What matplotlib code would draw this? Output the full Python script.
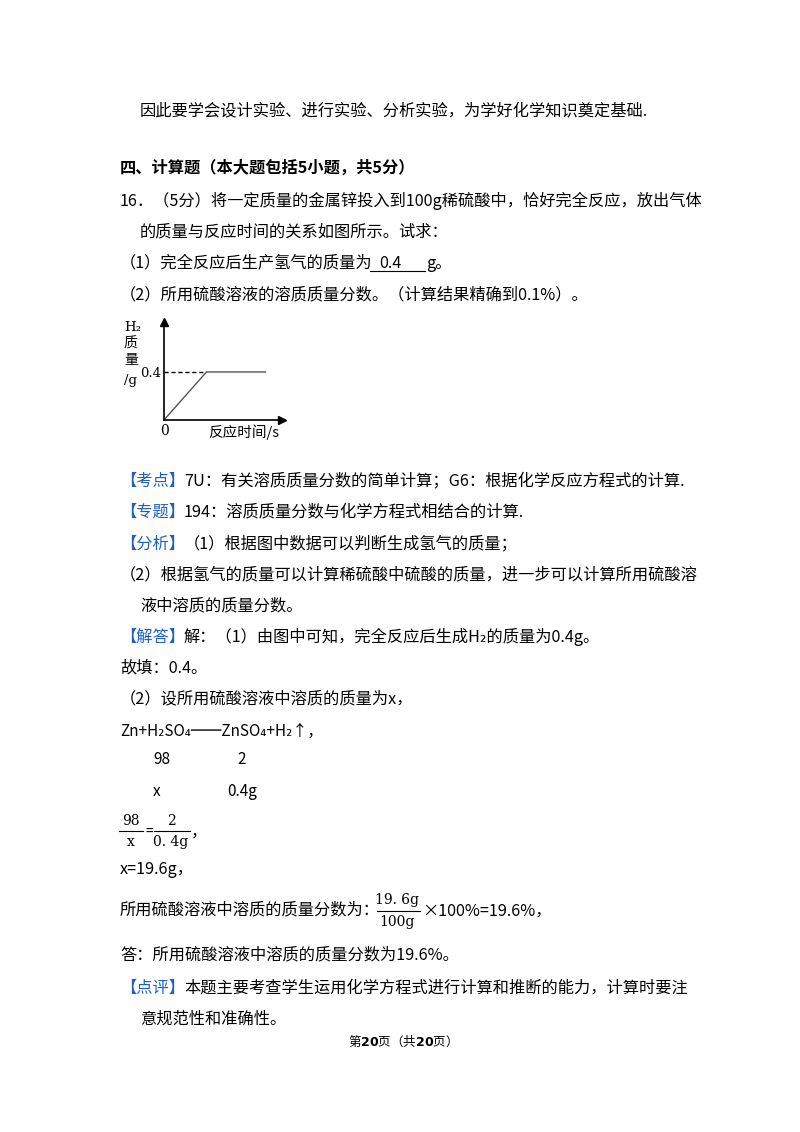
import matplotlib.pyplot as plt
from matplotlib.lines import Line2D

plt.rcParams['font.family'] = ['Noto Sans CJK SC', 'DejaVu Sans']

# chart data (graph in the question)
time = [0, 0.36, 0.86]
mass = [0, 0.4, 0.4]
y_ticks = [0.4]
y_tick_labels = ['0.4']

W, H = 800, 1132
fig = plt.figure(figsize=(8, 11.32), dpi=100)
FS = 11.7
BLUE = '#1f5fbf'


def tx(x, y, s, **kw):
    kw.setdefault('fontsize', FS)
    kw.setdefault('va', 'center')
    fig.text(x / W, 1 - y / H, s, **kw)


def hline(x0, x1, y, lw=0.8):
    fig.add_artist(Line2D([x0 / W, x1 / W], [1 - y / H, 1 - y / H], color='black', lw=lw))


tx(140, 111, '因此要学会设计实验、进行实验、分析实验，为学好化学知识奠定基础.')
tx(120, 168, '四、计算题（本大题包括5小题，共5分）', fontweight='bold')
tx(120, 201, '16．（5分）将一定质量的金属锌投入到100g稀硫酸中，恰好完全反应，放出气体')
tx(140, 232, '的质量与反应时间的关系如图所示。试求：')
tx(120, 263, '（1）完全反应后生产氢气的质量为')
tx(390, 263, '0.4', ha='center')
hline(370, 425, 271)
tx(426, 263, 'g。')
tx(120, 295, '（2）所用硫酸溶液的溶质质量分数。（计算结果精确到0.1%）。')

# chart
ax = fig.add_axes([164 / W, 1 - 420 / H, 118 / W, 98 / H])
ax.plot(time, mass, color='#555555', lw=1)
ax.plot([0, time[1]], [mass[1], mass[1]], color='black', lw=1, ls='--', dashes=(3, 2))
ax.set_xlim(0, 1)
ax.set_ylim(0, 0.816)
for s in ['top', 'right']:
    ax.spines[s].set_visible(False)
ax.spines['left'].set_linewidth(1.2)
ax.spines['bottom'].set_linewidth(1.2)
ax.plot(1, 0, '>k', ms=6, transform=ax.transAxes, clip_on=False)
ax.plot(0, 1, '^k', ms=6, transform=ax.transAxes, clip_on=False)
ax.set_xticks([])
ax.set_yticks(y_ticks)
ax.set_yticklabels(y_tick_labels, family='DejaVu Serif', fontsize=9.5)
ax.tick_params(axis='y', length=0, pad=2)
ax.patch.set_alpha(0)
tx(124, 327, 'H₂', fontsize=9.5, family=['DejaVu Serif'])
tx(124, 344, '质', fontsize=10)
tx(124, 360, '量', fontsize=10)
tx(124, 381, '/g', fontsize=9.5, family=['DejaVu Serif'])
tx(160, 431, '0', fontsize=10, family=['DejaVu Serif'])
tx(208, 432, '反应时间/s', fontsize=10.5)

# analysis
lines = [
    (481, '【考点】', '7U：有关溶质质量分数的简单计算；G6：根据化学反应方程式的计算.'),
    (512, '【专题】', '194：溶质质量分数与化学方程式相结合的计算.'),
    (544, '【分析】', '（1）根据图中数据可以判断生成氢气的质量；'),
]
for y, tag, rest in lines:
    tx(120, y, tag, color=BLUE)
    tx(184, y, rest)
tx(120, 575, '（2）根据氢气的质量可以计算稀硫酸中硫酸的质量，进一步可以计算所用硫酸溶')
tx(140, 606, '液中溶质的质量分数。')
tx(120, 637, '【解答】', color=BLUE)
tx(184, 637, '解：（1）由图中可知，完全反应后生成H₂的质量为0.4g。')
tx(120, 668, '故填：0.4。')
tx(120, 699, '（2）设所用硫酸溶液中溶质的质量为x，')
tx(120, 731, 'Zn+H₂SO₄══ZnSO₄+H₂↑，', fontsize=11)
tx(153, 760, '98', fontsize=11)
tx(237, 760, '2', fontsize=11)
tx(153, 791, 'x', fontsize=11)
tx(227, 791, '0.4g', fontsize=11)

# 98/x = 2/0.4g
tx(131, 821, '98', ha='center', fontsize=10, family=['DejaVu Serif'])
tx(131, 842, 'x', ha='center', fontsize=10, family=['DejaVu Serif'])
hline(119, 143, 831)
tx(145, 832, '=', fontsize=10)
tx(171, 821, '2', ha='center', fontsize=10, family=['DejaVu Serif'])
tx(171, 842, '0. 4g', ha='center', fontsize=10, family=['DejaVu Serif'])
hline(154, 190, 831)
tx(191, 832, '，')
tx(120, 870, 'x=19.6g，')
tx(120, 910, '所用硫酸溶液中溶质的质量分数为：')
tx(397, 900, '19. 6g', ha='center', fontsize=10, family=['DejaVu Serif'])
tx(397, 922, '100g', ha='center', fontsize=10, family=['DejaVu Serif'])
hline(377, 420, 911)
tx(422, 911, '×100%=19.6%，')
tx(120, 955, '答：所用硫酸溶液中溶质的质量分数为19.6%。')
tx(120, 988, '【点评】', color=BLUE)
tx(184, 988, '本题主要考查学生运用化学方程式进行计算和推断的能力，计算时要注')
tx(140, 1019, '意规范性和准确性。')
tx(400, 1041, '第$\\mathbf{20}$页（共$\\mathbf{20}$页）', ha='center', fontsize=9)

fig.savefig('out.png', dpi=100)
